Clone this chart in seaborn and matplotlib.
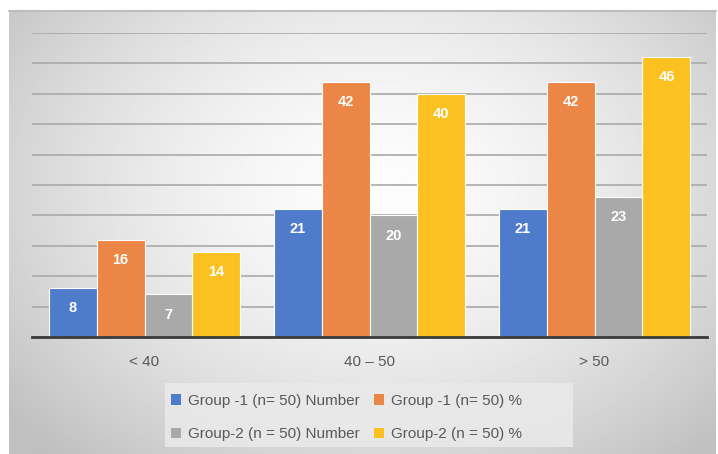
import numpy as np
import pandas as pd
import matplotlib
matplotlib.use("Agg")
import matplotlib.pyplot as plt
import seaborn as sns
from matplotlib.patches import Patch, Rectangle

categories = ["< 40", "40 – 50", "> 50"]
series_names = ["Group -1 (n= 50) Number", "Group -1 (n= 50) %",
                "Group-2 (n = 50) Number", "Group-2 (n = 50) %"]
g1_number = [8, 21, 21]
g1_pct = [16, 42, 42]
g2_number = [7, 20, 23]
g2_pct = [14, 40, 46]
colors = ["#4F7BCB", "#EB8646", "#A9A9A9", "#FBC120"]

rows = []
for name, vals in zip(series_names, [g1_number, g1_pct, g2_number, g2_pct]):
    for c, v in zip(categories, vals):
        rows.append({"Age": c, "Series": name, "Value": v})
df = pd.DataFrame(rows)

sns.set_theme(style="white")
plt.rcParams['font.family'] = ['Liberation Sans', 'DejaVu Sans']

W, H = 718, 454
fig = plt.figure(figsize=(W / 100, H / 100), dpi=100, facecolor="white")

# radial gradient background
bg = fig.add_axes([9 / W, 0, (716 - 9) / W, (H - 11) / H], zorder=-10)
ny, nx = 300, 480
yy, xx = np.mgrid[0:ny, 0:nx]
cx, cy = nx * 0.52, ny * 0.40
r = np.sqrt(((xx - cx) / (nx * 0.62)) ** 2 + ((yy - cy) / (ny * 0.75)) ** 2)
val = np.clip(0.99 - 0.21 * r ** 1.6, 0.75, 1.0)
bg.imshow(val, cmap="gray", vmin=0, vmax=1, aspect="auto", interpolation="bilinear")
bg.set_axis_off()
fig.add_artist(plt.Line2D([9 / W, 716 / W], [1 - 11 / H, 1 - 11 / H], color="#bdbdbd", lw=1.5))

ax = fig.add_axes([32 / W, 1 - 337 / H, (707 - 32) / W, (337 - 33) / H])
ax.set_facecolor("none")
sns.barplot(data=df, x="Age", y="Value", hue="Series", order=categories,
            hue_order=series_names, palette=colors, width=0.853, ax=ax,
            edgecolor="white", linewidth=0.8, saturation=1, legend=False, zorder=3)
ax.set_ylim(0, 50)
ax.set_yticks(np.arange(0, 51, 5))
ax.yaxis.grid(True, color="#a9a9a9", lw=1.2, zorder=0)
ax.set_axisbelow(True)
ax.tick_params(axis="y", left=False, labelleft=False)
ax.tick_params(axis="x", bottom=False, labelsize=11, labelcolor="#595959", pad=7)
for s in ["top", "right", "left"]:
    ax.spines[s].set_visible(False)
ax.spines["bottom"].set_color("#3a3a3a")
ax.spines["bottom"].set_linewidth(2)
ax.spines["bottom"].set_zorder(5)
ax.set_xlabel("")
ax.set_ylabel("")
ax.set_xlim(-0.5, 2.5)

for cont in ax.containers:
    for p in cont:
        h = p.get_height()
        ax.annotate(f"{int(round(h))}", (p.get_x() + p.get_width() / 2, h),
                    xytext=(0, -14.5), textcoords="offset points", ha="center", va="center",
                    color="white", fontweight="bold", fontsize=10.5, zorder=6)

# legend background box
fig.add_artist(Rectangle((165 / W, 1 - 447 / H), (573 - 165) / W, (447 - 383) / H,
                         transform=fig.transFigure, facecolor="#eaeaea", edgecolor="none",
                         alpha=0.85, zorder=1))

handles = [Patch(facecolor=c, edgecolor="none") for c in colors]
order = [0, 2, 1, 3]
leg = fig.legend([handles[i] for i in order], [series_names[i] for i in order],
                 ncol=2, loc="upper left", bbox_to_anchor=(166 / W, 1 - 389 / H),
                 frameon=False, fontsize=11, handlelength=0.7,
                 handleheight=0.7, handletextpad=0.45, columnspacing=0.9,
                 labelspacing=1.3, borderpad=0.3, borderaxespad=0, labelcolor="#595959")
leg.set_zorder(2)

fig.savefig("out.png", dpi=100, facecolor="white")
